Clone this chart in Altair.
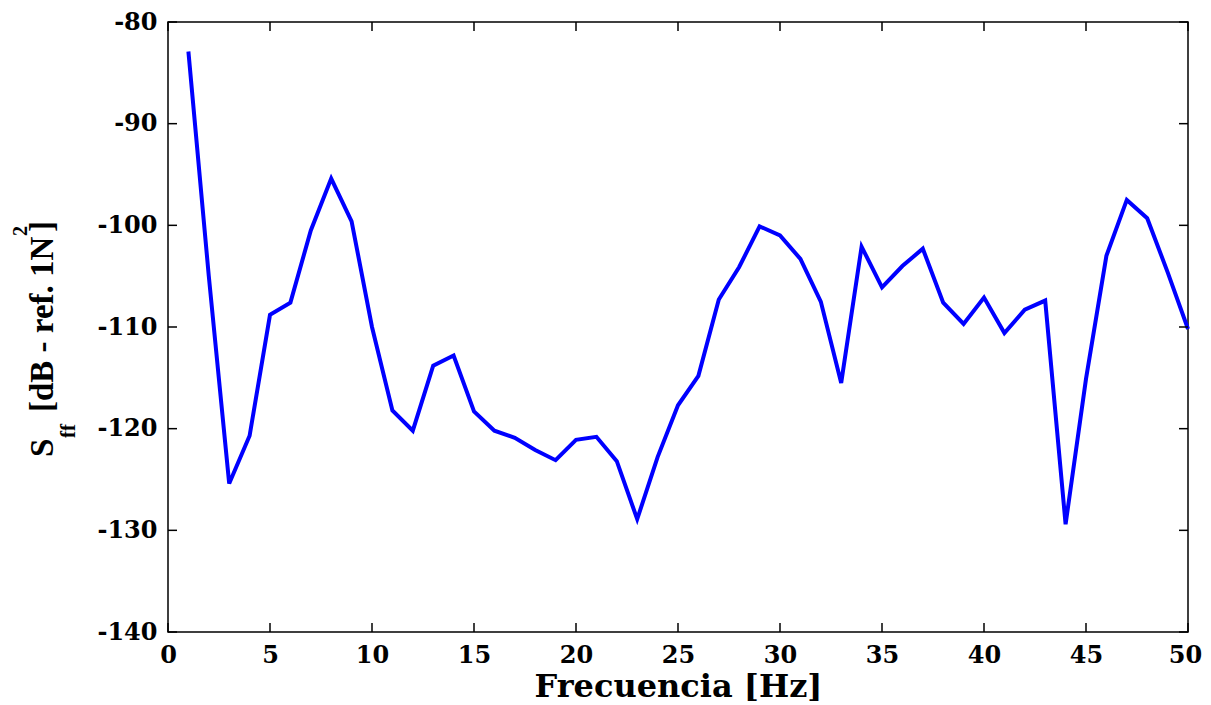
import altair as alt
import pandas as pd

# ---- data ----
freq_hz = list(range(1, 51))
sff_db = [-82.9, -105.0, -125.4, -120.7, -108.8, -107.6, -100.5, -95.4, -99.6, -110.0,
          -118.2, -120.2, -113.8, -112.8, -118.3, -120.2, -120.9, -122.1, -123.1, -121.1,
          -120.8, -123.2, -128.9, -122.8, -117.7, -114.8, -107.3, -104.1, -100.1, -101.0,
          -103.3, -107.5, -115.5, -102.1, -106.1, -104.0, -102.3, -107.6, -109.7, -107.1,
          -110.6, -108.3, -107.4, -129.4, -115.1, -103.0, -97.5, -99.3, -104.6, -110.2]
x_ticks = [0, 5, 10, 15, 20, 25, 30, 35, 40, 45, 50]
y_ticks = [-140, -130, -120, -110, -100, -90, -80]

W, H = 1020, 610
FONT = "Liberation Serif"
WFONT = "DejaVu Serif"

df = pd.DataFrame({"f": freq_hz, "s": sff_db})
dfx = pd.DataFrame({"t": x_ticks})
dfy = pd.DataFrame({"t": y_ticks})
one = pd.DataFrame({"a": [0]})

xscale = alt.Scale(domain=[0, 50], nice=False, zero=False)
yscale = alt.Scale(domain=[-140, -80], nice=False, zero=False)

xaxis = alt.Axis(values=x_ticks, title="Frecuencia [Hz]", grid=False, domain=False,
                 ticks=False, labelPadding=11, labelFont=WFONT, labelFontSize=24,
                 labelFontWeight="bold", labelColor="black", titleFont=WFONT,
                 titleFontSize=32, titleFontWeight="bold", titleColor="black",
                 titlePadding=4, labelFlush=False, labelOverlap=False,
                 labelOffset={"condition": {"test": "datum.value === 50", "value": -3},
                              "value": 0})
yaxis = alt.Axis(values=y_ticks, title="", grid=False, domain=False, ticks=False,
                 labelPadding=11, labelFont=WFONT, labelFontSize=24,
                 labelFontWeight="bold", labelColor="black", labelFlush=False,
                 labelOverlap=False,
                 labelExpr="(datum.value < 0 ? '-' : '') + abs(datum.value)")

line = alt.Chart(df).mark_line(color="#0000FF", strokeWidth=4, strokeJoin="miter").encode(
    x=alt.X("f:Q", scale=xscale, axis=xaxis, title="Frecuencia [Hz]"),
    y=alt.Y("s:Q", scale=yscale, axis=yaxis, title=""),
)

tick_len = 9
tick_style = dict(color="black", strokeWidth=1.5)
bottom_ticks = alt.Chart(dfx).mark_rule(**tick_style).encode(
    x=alt.X("t:Q", scale=xscale, axis=xaxis, title="Frecuencia [Hz]"),
    y=alt.value(H), y2=alt.value(H - tick_len))
top_ticks = alt.Chart(dfx).mark_rule(**tick_style).encode(
    x=alt.X("t:Q", scale=xscale, axis=xaxis, title="Frecuencia [Hz]"),
    y=alt.value(0), y2=alt.value(tick_len))
left_ticks = alt.Chart(dfy).mark_rule(**tick_style).encode(
    y=alt.Y("t:Q", scale=yscale, axis=yaxis, title=""),
    x=alt.value(0), x2=alt.value(tick_len))
right_ticks = alt.Chart(dfy).mark_rule(**tick_style).encode(
    y=alt.Y("t:Q", scale=yscale, axis=yaxis, title=""),
    x=alt.value(W), x2=alt.value(W - tick_len))


def piece(text, x, y, size):
    return alt.Chart(one).mark_text(
        text=text, font=FONT, fontWeight="bold", fontSize=size, angle=270,
        align="left", baseline="alphabetic", color="black"
    ).encode(x=alt.value(x), y=alt.value(y))


# y-axis title: S_ff [dB - ref. 1N^2]  (page coords minus plot origin 168,22)
ytitle = [
    piece("S", 53 - 168, 457 - 22, 33),
    piece("ff", 75 - 168, 438 - 22, 21),
    piece("[dB - ref. 1N", 53 - 168, 412 - 22, 33),
    piece("2", 27 - 168, 236 - 22, 20),
    piece("]", 53 - 168, 232 - 22, 33),
]

chart = alt.layer(line, bottom_ticks, top_ticks, left_ticks, right_ticks, *ytitle).properties(
    width=W, height=H,
    padding={"left": 160, "top": 14, "right": 15, "bottom": 75},
    autosize=alt.AutoSizeParams(type="none"),
    background="white",
).configure_view(stroke="black", strokeWidth=1.5)

chart.save("out.html", embed_options={"renderer": "svg", "actions": False})
